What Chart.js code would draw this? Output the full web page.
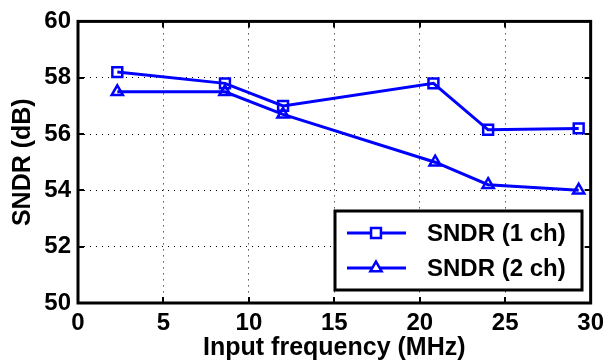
<!DOCTYPE html>
<html>
<head>
<meta charset="utf-8">
<script src="https://cdn.jsdelivr.net/npm/chart.js@4"></script>
<style>
  html, body { margin: 0; padding: 0; background: #fff; }
  #wrap { width: 610px; height: 363px; }
</style>
</head>
<body>
<div id="wrap"><canvas id="c" width="610" height="363"></canvas></div>
<script>
// values
const freq1ch = [2.3, 8.6, 12, 20.8, 24, 29.3];
const sndr1ch = [58.2, 57.8, 57.0, 57.8, 56.15, 56.2];
const freq2ch = [2.3, 8.6, 12, 20.9, 24, 29.3];
const sndr2ch = [57.5, 57.5, 56.7, 55.0, 54.2, 54.0];
const xTicks = [0, 5, 10, 15, 20, 25, 30];
const yTicks = [50, 52, 54, 56, 58, 60];

const FONT = 'Liberation Sans, Arial, sans-serif';
const BLUE = '#0000ff';

// black box round the plot + short ticks pointing inwards
const framePlugin = {
  id: 'frame',
  afterDatasetsDraw(chart) {
    const { ctx, chartArea: a, scales } = chart;
    ctx.save();
    ctx.strokeStyle = '#000';
    ctx.lineWidth = 2;
    const t = 6;
    xTicks.forEach(v => {
      const px = Math.round(scales.x.getPixelForValue(v));
      ctx.beginPath();
      ctx.moveTo(px, a.bottom); ctx.lineTo(px, a.bottom - t);
      ctx.moveTo(px, a.top); ctx.lineTo(px, a.top + t);
      ctx.stroke();
    });
    yTicks.forEach(v => {
      const py = Math.round(scales.y.getPixelForValue(v));
      ctx.beginPath();
      ctx.moveTo(a.left, py); ctx.lineTo(a.left + t, py);
      ctx.moveTo(a.right, py); ctx.lineTo(a.right - t, py);
      ctx.stroke();
    });
    ctx.lineWidth = 3;
    ctx.strokeRect(a.left, a.top, a.right - a.left, a.bottom - a.top);
    ctx.restore();
  }
};

// legend box in the lower right corner, like matlab
const boxLegend = {
  id: 'boxLegend',
  afterDraw(chart) {
    const { ctx } = chart;
    const x0 = 335, y0 = 211, w = 247, h = 79;
    ctx.save();
    ctx.fillStyle = '#fff';
    ctx.fillRect(x0, y0, w, h);
    ctx.strokeStyle = '#000';
    ctx.lineWidth = 3;
    ctx.strokeRect(x0, y0, w, h);
    chart.data.datasets.forEach((ds, i) => {
      const cy = y0 + 22 + i * 35;
      ctx.strokeStyle = ds.borderColor;
      ctx.lineWidth = ds.borderWidth;
      ctx.beginPath();
      ctx.moveTo(347, cy); ctx.lineTo(406, cy);
      ctx.stroke();
      ctx.fillStyle = '#fff';
      ctx.lineWidth = ds.pointBorderWidth;
      Chart.helpers.drawPoint(ctx, {
        pointStyle: ds.pointStyle, radius: ds.pointRadius, rotation: 0, borderWidth: ds.pointBorderWidth
      }, 376, cy);
      ctx.fillStyle = '#000';
      ctx.font = 'bold 24px ' + FONT;
      ctx.textBaseline = 'middle';
      ctx.textAlign = 'left';
      ctx.fillText(ds.label, 427, cy + 1);
    });
    ctx.restore();
  }
};

new Chart(document.getElementById('c'), {
  type: 'line',
  data: {
    datasets: [
      {
        label: 'SNDR (1 ch)',
        data: freq1ch.map((f, i) => ({ x: f, y: sndr1ch[i] })),
        borderColor: BLUE,
        backgroundColor: '#fff',
        borderWidth: 3,
        pointStyle: 'rect',
        pointRadius: 7,
        pointBorderWidth: 2.5,
        pointBorderColor: BLUE,
        pointBackgroundColor: 'rgba(0,0,0,0)',
        tension: 0
      },
      {
        label: 'SNDR (2 ch)',
        data: freq2ch.map((f, i) => ({ x: f, y: sndr2ch[i] })),
        borderColor: BLUE,
        backgroundColor: '#fff',
        borderWidth: 3,
        pointStyle: 'triangle',
        pointRadius: 6.5,
        pointBorderWidth: 2.5,
        pointBorderColor: BLUE,
        pointBackgroundColor: 'rgba(0,0,0,0)',
        tension: 0
      }
    ]
  },
  options: {
    responsive: false,
    animation: false,
    events: [],
    layout: { padding: { top: 18, right: 18, left: 0, bottom: 0 } },
    plugins: { legend: { display: false }, tooltip: { enabled: false } },
    scales: {
      x: {
        type: 'linear',
        min: 0, max: 30,
        afterBuildTicks: s => { s.ticks = xTicks.map(v => ({ value: v })); },
        afterFit: s => { s.height = 60; },
        grid: { color: '#000', lineWidth: 1, drawTicks: false },
        border: { display: false, dash: [1, 5] },
        ticks: { color: '#000', padding: 6, maxRotation: 0, font: { family: FONT, size: 24, weight: 'bold' } },
        title: {
          display: true, text: 'Input frequency (MHz)', color: '#000',
          padding: { top: 0, bottom: 2 },
          font: { family: FONT, size: 25, weight: 'bold', lineHeight: 1 }
        }
      },
      y: {
        type: 'linear',
        min: 50, max: 60,
        afterBuildTicks: s => { s.ticks = yTicks.map(v => ({ value: v })); },
        afterFit: s => { s.width = 78; },
        grid: { color: '#000', lineWidth: 1, drawTicks: false },
        border: { display: false, dash: [1, 5] },
        ticks: { color: '#000', padding: 7, font: { family: FONT, size: 24, weight: 'bold' } },
        title: {
          display: true, text: 'SNDR (dB)', color: '#000',
          padding: { top: 11, bottom: 0 },
          font: { family: FONT, size: 25, weight: 'bold', lineHeight: 1 }
        }
      }
    }
  },
  plugins: [framePlugin, boxLegend]
});
</script>
</body>
</html>
